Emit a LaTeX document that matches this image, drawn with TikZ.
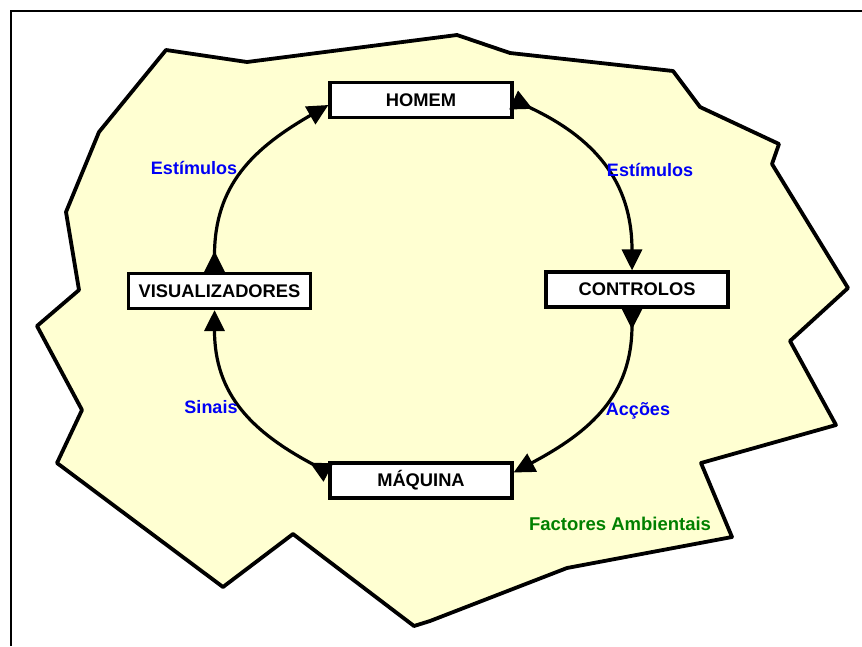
\documentclass[tikz,border=0pt]{standalone}
\usepackage{fontspec}
\setmainfont{Liberation Sans}
\usetikzlibrary{arrows.meta}
\definecolor{cream}{RGB}{255,255,210}
\definecolor{lblblue}{RGB}{0,0,245}
\definecolor{lblgreen}{RGB}{0,128,0}
\tikzset{
  box/.style={draw=black, line width=3.2pt, fill=white, minimum width=182pt, minimum height=35pt, inner sep=0pt,
    font=\fontsize{18.3}{21}\selectfont\bfseries},
  flow/.style={line width=3.2pt, {Triangle[reversed,length=21pt,width=20pt]}-{Triangle[length=21pt,width=20pt]}},
  lbl/.style={text=lblblue, font=\fontsize{18}{21}\selectfont\bfseries, inner sep=0pt},
  env/.style={text=lblgreen, font=\fontsize{18.5}{21}\selectfont\bfseries, inner sep=0pt}
}
\begin{document}
\begin{tikzpicture}[x=1pt,y=-1pt]
\useasboundingbox (0,0) rectangle (862,646);
% frame
\draw[line width=2.4pt] (11,646) -- (11,11) -- (862,11);
% environment region
\draw[line width=3.8pt, fill=cream, line join=round]
  (166,50) -- (247,62) -- (457,35) -- (510,53) -- (673,71) -- (700,107) -- (779,144) -- (772,164)
  -- (848,288) -- (790,341) -- (836,425) -- (701,463) -- (732,537) -- (567,568) -- (430,621)
  -- (414,626) -- (293,534) -- (223,587) -- (57,463) -- (82,410) -- (37,326) -- (79,290)
  -- (66,212) -- (99,132) -- cycle;
% boxes
\node[box] (homem) at (421,100) {HOMEM};
\node[box] (ctrl) at (637,289.5) {CONTROLOS};
\node[box] (maq) at (421,480.5) {MÁQUINA};
\node[box] (vis) at (219.5,291) {VISUALIZADORES};
% flows
\draw[flow] ([xshift=-5pt]vis.north) to[out=90,in=-150,looseness=1.1] ([yshift=-5pt]homem.west);
\draw[flow] (homem.east) to[out=-25,in=90,looseness=1.1] ([xshift=-5pt]ctrl.north);
\draw[flow] ([xshift=-5pt]ctrl.south) to[out=-90,in=28,looseness=1.1] ([yshift=8pt]maq.east);
\draw[flow] ([yshift=8pt]maq.west) to[out=152,in=-90,looseness=1.1] ([xshift=-5pt]vis.south);
% labels
\node[lbl] (e1) at (194,168) {Estímulos};
\node[lbl] (e2) at (650,170) {Estímulos};
\node[lbl] (s1) at (211,407) {Sinais};
\node[lbl] (a1) at (638,411) {Acções};
\node[env] (fa) at (620,524) {Factores Ambientais};
\end{tikzpicture}
\end{document}
